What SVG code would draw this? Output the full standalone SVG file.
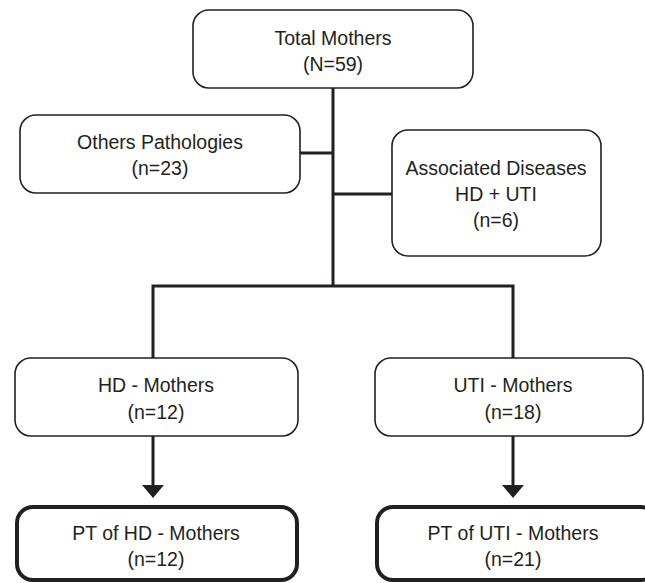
<svg xmlns="http://www.w3.org/2000/svg" width="645" height="583" viewBox="0 0 645 583">
<style>
.box{fill:#fff;stroke:#231f20;stroke-width:1.6}
.bold{fill:#fff;stroke:#231f20;stroke-width:4}
.ln{fill:none;stroke:#231f20;stroke-width:3}
.head{fill:#231f20}
.t{font-family:"Liberation Sans",Arial,sans-serif;font-size:19.5px;fill:#231f20;text-anchor:middle}
</style>
<rect width="645" height="583" fill="#fff"/>
<g id="connectors">
<path class="ln" d="M333,88 V286"/>
<path class="ln" d="M300,153 H333"/>
<path class="ln" d="M333,194 H392"/>
<path class="ln" d="M153,358 V286 H513 V358"/>
<path class="ln" d="M153,436 V486"/>
<path class="ln" d="M513,436 V486"/>
<polygon class="head" points="142,485 164,485 153,498"/>
<polygon class="head" points="502,485 524,485 513,498"/>
</g>
<g id="total">
<rect class="box" x="193" y="10" width="280" height="78" rx="16"/>
<text class="t" x="333" y="45">Total Mothers</text>
<text class="t" x="333" y="71">(N=59)</text>
</g>
<g id="others">
<rect class="box" x="20" y="115" width="280" height="78" rx="16"/>
<text class="t" x="160" y="149">Others Pathologies</text>
<text class="t" x="160" y="175">(n=23)</text>
</g>
<g id="associated">
<rect class="box" x="392" y="130" width="209" height="126" rx="16"/>
<text class="t" x="496" y="175">Associated Diseases</text>
<text class="t" x="496" y="201">HD + UTI</text>
<text class="t" x="496" y="227">(n=6)</text>
</g>
<g id="hd">
<rect class="box" x="15" y="358" width="283" height="78" rx="16"/>
<text class="t" x="156" y="392">HD - Mothers</text>
<text class="t" x="156" y="419">(n=12)</text>
</g>
<g id="uti">
<rect class="box" x="375" y="358" width="268" height="78" rx="16"/>
<text class="t" x="513" y="392">UTI - Mothers</text>
<text class="t" x="513" y="419">(n=18)</text>
</g>
<g id="pthd">
<rect class="bold" x="17" y="507" width="280" height="73" rx="16"/>
<text class="t" x="156" y="540">PT of HD - Mothers</text>
<text class="t" x="156" y="566">(n=12)</text>
</g>
<g id="ptuti">
<rect class="bold" x="377" y="507" width="280" height="73" rx="16"/>
<text class="t" x="513" y="540">PT of UTI - Mothers</text>
<text class="t" x="513" y="566">(n=21)</text>
</g>
</svg>
